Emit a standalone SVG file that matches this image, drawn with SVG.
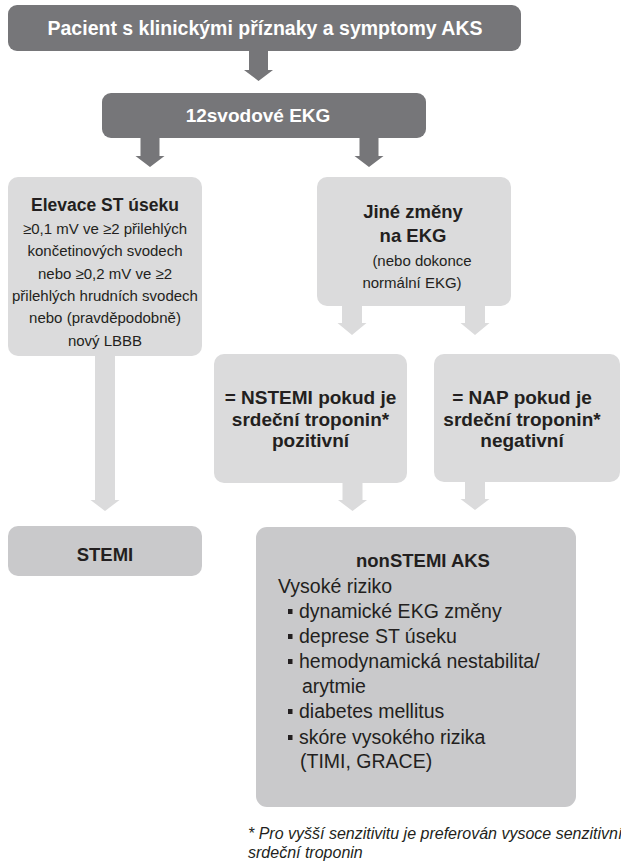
<svg xmlns="http://www.w3.org/2000/svg" width="621" height="863" viewBox="0 0 621 863">
<style>
.dark{fill:#767679}
.light{fill:#dbdbdc}
.mid{fill:#c9c9cb}
text{font-family:"Liberation Sans",Arial,sans-serif;fill:#231f20}
.wt{fill:#ffffff;font-weight:bold;font-size:19px}
.b{font-weight:bold}
.c{text-anchor:middle}
.body{font-size:15px}
.list{font-size:19.5px}
.fn{font-size:16px;font-style:italic}
</style>
<rect width="621" height="863" fill="#ffffff"/>
<g id="connectors">
<path class="dark" d="M249,51 H268 V70 H273 L258.5,81 L244,70 H249 Z"/>
<path class="dark" d="M140.5,138 H159.5 V156 H164.5 L150,167 L135.5,156 H140.5 Z"/>
<path class="dark" d="M359.5,138 H378.5 V156 H383.5 L369,167 L354.5,156 H359.5 Z"/>
<path class="light" d="M342,306 H362 V323 H366.5 L352,335 L337.5,323 H342 Z"/>
<path class="light" d="M465,306 H485 V323 H489.5 L475,335 L460.5,323 H465 Z"/>
<path class="light" d="M95,356 H115 V500 H119.5 L105,511 L90.5,500 H95 Z"/>
<path class="light" d="M342.5,483 H362.5 V500 H367 L352.5,511 L338,500 H342.5 Z"/>
<path class="light" d="M465,482 H485 V499 H489.5 L475,510 L460.5,499 H465 Z"/>
</g>
<g id="patient">
<rect class="dark" x="8" y="5" width="513" height="46" rx="9"/>
<text class="wt c" x="265" y="35" style="font-size:19.5px">Pacient s klinickými příznaky a symptomy AKS</text>
</g>
<g id="ekg">
<rect class="dark" x="102" y="93" width="324" height="45" rx="9"/>
<text class="wt c" x="258" y="122">12svodové EKG</text>
</g>
<g id="elevace">
<rect class="light" x="8" y="177" width="194" height="179" rx="10"/>
<text class="b c" x="105" y="211" style="font-size:17.5px">Elevace ST úseku</text>
<text class="body c" x="105" y="234">≥0,1 mV ve ≥2 přilehlých</text>
<text class="body c" x="105" y="256.3">končetinových svodech</text>
<text class="body c" x="105" y="278.6">nebo ≥0,2 mV ve ≥2</text>
<text class="body c" x="105" y="300.9">přilehlých hrudních svodech</text>
<text class="body c" x="105" y="323.2">nebo (pravděpodobně)</text>
<text class="body c" x="105" y="345.5">nový LBBB</text>
</g>
<g id="jine">
<rect class="light" x="317" y="177" width="194" height="129" rx="10"/>
<text class="b c" x="413" y="218" style="font-size:18.5px">Jiné změny</text>
<text class="b c" x="413" y="242" style="font-size:18.5px">na EKG</text>
<text class="body c" x="422" y="266">(nebo dokonce</text>
<text class="body c" x="412" y="288">normální EKG)</text>
</g>
<g id="nstemi">
<rect class="light" x="214" y="354" width="193" height="129" rx="10"/>
<text class="b c" x="310.5" y="404" style="font-size:19px">= NSTEMI pokud je</text>
<text class="b c" x="310.5" y="425.5" style="font-size:19px">srdeční troponin*</text>
<text class="b c" x="310.5" y="447" style="font-size:19px">pozitivní</text>
</g>
<g id="nap">
<rect class="light" x="434" y="354" width="186" height="128" rx="10"/>
<text class="b c" x="522" y="404" style="font-size:19px">= NAP pokud je</text>
<text class="b c" x="522" y="425.5" style="font-size:19px">srdeční troponin*</text>
<text class="b c" x="522" y="447" style="font-size:19px">negativní</text>
</g>
<g id="stemi">
<rect class="mid" x="8" y="526" width="194" height="50" rx="10"/>
<text class="b c" x="105" y="561" style="font-size:18.5px">STEMI</text>
</g>
<g id="nonstemi">
<rect class="mid" x="256" y="527" width="320" height="280" rx="11"/>
<text class="b c" x="423" y="567" style="font-size:18.5px">nonSTEMI AKS</text>
<text class="list" x="278" y="593">Vysoké riziko</text>
<rect x="288" y="609" width="4.5" height="5" fill="#231f20"/>
<text class="list" x="299" y="618">dynamické EKG změny</text>
<rect x="288" y="634" width="4.5" height="5" fill="#231f20"/>
<text class="list" x="299" y="643">deprese ST úseku</text>
<rect x="288" y="659" width="4.5" height="5" fill="#231f20"/>
<text class="list" x="299" y="668">hemodynamická nestabilita/</text>
<text class="list" x="302" y="693">arytmie</text>
<rect x="288" y="709" width="4.5" height="5" fill="#231f20"/>
<text class="list" x="299" y="718">diabetes mellitus</text>
<rect x="288" y="735" width="4.5" height="5" fill="#231f20"/>
<text class="list" x="299" y="744">skóre vysokého rizika</text>
<text class="list" x="300" y="768">(TIMI, GRACE)</text>
</g>
<g id="footnote">
<text class="fn" x="248" y="839">* Pro vyšší senzitivitu je preferován vysoce senzitivní</text>
<text class="fn" x="248" y="858">srdeční troponin</text>
</g>
</svg>
